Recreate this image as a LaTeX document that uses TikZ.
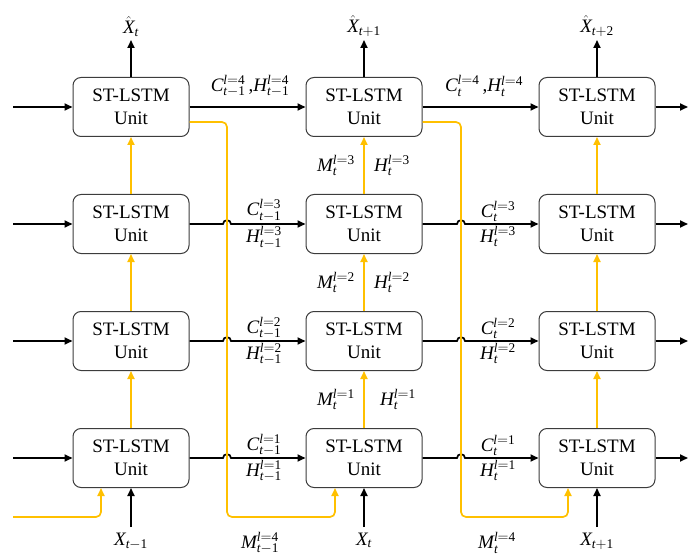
\documentclass[tikz,border=0pt]{standalone}
\usepackage[no-math]{fontspec}
\setmainfont{Liberation Serif}
\usepackage{amsmath}
\usetikzlibrary{arrows.meta,calc}
\definecolor{gold}{HTML}{FFC000}
\definecolor{edge}{HTML}{3C3C3C}

% variables with layer superscripts
\newcommand\ti[1]{\textit{#1}}
\newcommand\tr[1]{\textrm{#1}}
\newcommand\sym[3]{$\ti{#1}_{#2}^{\ti{l}=\tr{#3}}$}
\newcommand\tmo{\ti{t}-\tr{1}}
\newcommand\tpo{\ti{t}+\tr{1}}
\newcommand\tpt{\ti{t}+\tr{2}}

\begin{document}
\begin{tikzpicture}[x=1pt,y=-1pt,
  every node/.style={font=\fontsize{19}{23}\selectfont, inner sep=1pt},
  lbl/.style={font=\fontsize{19}{23}\selectfont, inner sep=1pt},
  unit/.style={draw=edge, line width=1pt, rounded corners=8pt, fill=white,
    minimum width=116pt, minimum height=59pt, align=center, inner sep=0pt},
  blk/.style={draw=black, line width=1.7pt, -{Triangle[length=8pt,width=7pt]}},
  yel/.style={draw=gold, line width=1.7pt, rounded corners=5pt,
    -{Triangle[length=8pt,width=7pt]}}]
\useasboundingbox (0,0) rectangle (688,556);

% grid of units: column c, layer row r (row 1 on top)
\foreach \c/\x in {1/131,2/364,3/597}
  \foreach \r/\y in {1/107,2/224,3/341,4/458}
    \node[unit] (u\c\r) at (\x,\y) {ST-LSTM\\Unit};

% helper positions
\coordinate (lft) at (13,0);
\coordinate (rgt) at (688,0);
\coordinate (ch1) at (227,0);
\coordinate (ch2) at (461,0);
\coordinate (bot) at (0,517);
\coordinate (xin) at (0,527);
\coordinate (xout) at (0,40);

% incoming and outgoing state arrows at the sides
\foreach \r in {1,2,3,4} {
  \draw[blk] (u1\r.west -| lft) -- (u1\r.west);
  \draw[blk] (u3\r.east) -- (u3\r.east -| rgt);
}

% top layer: plain arrows between time steps
\draw[blk] (u11.east) -- (u21.west);
\draw[blk] (u21.east) -- (u31.west);

% lower layers: arrows hopping over the memory channel
\foreach \r in {2,3,4} {
  \draw[blk] (u1\r.east) -- ($(u1\r.east -| ch1)+(-4,0)$)
    .. controls +(0,-5) and +(0,-5) .. ($(u1\r.east -| ch1)+(4,0)$) -- (u2\r.west);
  \draw[blk] (u2\r.east) -- ($(u2\r.east -| ch2)+(-4,0)$)
    .. controls +(0,-5) and +(0,-5) .. ($(u2\r.east -| ch2)+(4,0)$) -- (u3\r.west);
}

% spatial memory flow upward through the layers
\foreach \c in {1,2,3}
  \foreach \r/\s in {2/1,3/2,4/3}
    \draw[yel] (u\c\r.north) -- (u\c\s.south);

% memory passed from the top layer to the bottom of the next step
\coordinate (o1) at ($(u11.east)+(0,15)$);
\coordinate (o2) at ($(u21.east)+(0,15)$);
\coordinate (i1) at ($(u14.south)+(-30,0)$);
\coordinate (i2) at ($(u24.south)+(-29,0)$);
\coordinate (i3) at ($(u34.south)+(-29,0)$);
\coordinate (lin) at (13,517);
\draw[yel] (lin) -- (lin -| i1) -- (i1);
\draw[yel] (o1) -- (o1 -| ch1) -- (ch1 |- bot) -- (bot -| i2) -- (i2);
\draw[yel] (o2) -- (o2 -| ch2) -- (ch2 |- bot) -- (bot -| i3) -- (i3);

% inputs and predictions
\foreach \c/\t in {1/\tmo,2/\ti{t},3/\tpo}
  \draw[blk] (u\c4.south |- xin) -- (u\c4.south)
    node[lbl, pos=0, anchor=north, yshift=-4pt] (x\c) {$\ti{X}_{\t}$};
\foreach \c/\t in {1/\ti{t},2/\tpo,3/\tpt}
  \draw[blk] (u\c1.north) -- (u\c1.north |- xout)
    node[lbl, pos=1, anchor=south, yshift=2pt] (p\c) {$\hat{\ti{X}}_{\t}$};

% labels on the top-layer transitions
\node[lbl] (t1) at (250,86) {\sym{C}{\tmo}{4}\,,\sym{H}{\tmo}{4}};
\node[lbl] (t2) at (484,86) {\sym{C}{\ti{t}}{4}\,,\sym{H}{\ti{t}}{4}};

% labels on the lower-layer transitions
\foreach \r/\n in {2/3,3/2,4/1} {
  \node[lbl, anchor=south] (ca\r) at ($(u1\r.east -| ch1)+(37,-1)$) {\sym{C}{\tmo}{\n}};
  \node[lbl, anchor=north] (ha\r) at ($(u1\r.east -| ch1)+(37,1)$) {\sym{H}{\tmo}{\n}};
  \node[lbl, anchor=south] (cb\r) at ($(u2\r.east -| ch2)+(37,-1)$) {\sym{C}{\ti{t}}{\n}};
  \node[lbl, anchor=north] (hb\r) at ($(u2\r.east -| ch2)+(37,1)$) {\sym{H}{\ti{t}}{\n}};
}

% labels beside the vertical flow in the middle column
\foreach \r/\s/\n/\hx in {2/1/3/373,3/2/2/373,4/3/1/379} {
  \coordinate (mid\r) at ($(u2\r.north)!0.5!(u2\s.south)$);
  \node[lbl, anchor=east] (m\r) at (356,0 |- mid\r) {\sym{M}{\ti{t}}{\n}};
  \node[lbl, anchor=west] (h\r) at (\hx,0 |- mid\r) {\sym{H}{\ti{t}}{\n}};
}

% memory labels under the channels
\node[lbl] (mb1) at (260,543) {\sym{M}{\tmo}{4}};
\node[lbl] (mb2) at (497,543) {\sym{M}{\ti{t}}{4}};
\end{tikzpicture}
\end{document}
